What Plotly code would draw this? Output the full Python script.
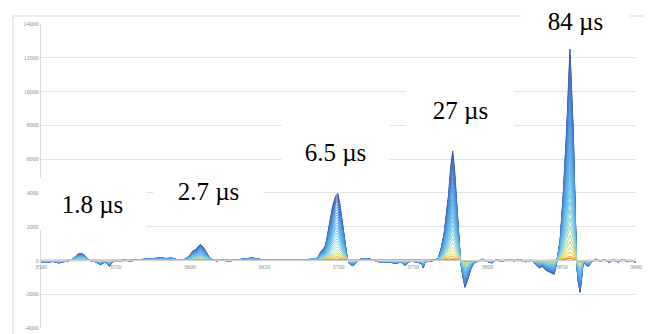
import plotly.graph_objects as go

# ---- data (outermost / strongest spectrum) ----
wavenumber = [3500, 3504, 3508, 3512, 3515, 3518, 3521, 3523, 3525, 3527, 3529, 3531, 3533, 3536,
              3540, 3543, 3546, 3548, 3552, 3556, 3560, 3564, 3568, 3572, 3576, 3580, 3584, 3588,
              3591, 3594, 3597, 3600, 3602, 3604, 3606, 3607, 3609, 3611, 3613, 3615, 3618, 3622,
              3626, 3630, 3634, 3638, 3642, 3646, 3650, 3655, 3660, 3665, 3670, 3675, 3680, 3684,
              3686, 3688, 3690, 3691, 3692, 3694, 3696, 3698, 3699.5, 3701, 3703, 3705, 3706, 3708,
              3710, 3712, 3715, 3718, 3722, 3726, 3730, 3734, 3738, 3742, 3745, 3747, 3750, 3753,
              3756, 3757, 3758, 3761, 3764, 3767, 3769, 3771, 3772.5, 3774, 3775.5, 3776.8, 3778,
              3779.5, 3781, 3782, 3783.5, 3785, 3787, 3789, 3791, 3794, 3797, 3800, 3803, 3806,
              3810, 3814, 3818, 3822, 3826, 3830, 3833, 3835, 3837, 3839, 3841, 3843, 3845, 3846,
              3847, 3849, 3851, 3853.4, 3855.6, 3857.8, 3859.5, 3860, 3861, 3862.4, 3863.5, 3864.6,
              3866, 3868, 3870, 3873, 3876, 3879, 3882, 3885, 3888, 3891, 3894, 3897, 3900]
intensity = [-80, -120, -60, -150, -80, -40, 60, 250, 380, 415, 330, 120, 0, -60,
             -250, -100, -350, -80, -40, 20, -30, 40, 60, 100, 130, 150, 120, 140,
             60, 0, 80, 300, 550, 650, 850, 950, 800, 500, 200, 40, -20, 30,
             -40, 20, 60, 100, 150, 80, 30, 60, 20, 50, 10, 40, 60, 80,
             150, 500, 700, 850, 1200, 2200, 3200, 3800, 3980, 3300, 2000, 700, 50, -250,
             -300, -100, 80, 120, 60, -60, -120, -80, -180, -100, -300, -80, -60, -100,
             -200, -450, -100, -50, 0, 120, 700, 1600, 2600, 3900, 5600, 6480, 5400,
             3200, 900, 0, -900, -1600, -1100, -500, -150, -50, 80, -60, -150, 40,
             -50, 60, -20, 40, -80, 20, -300, -450, -350, -550, -650, -750, -820, -400,
             50, 1200, 3800, 7800, 12520, 7800, 1840, 0, -1200, -1900, -1000, 0,
             -250, -350, -100, 80, -60, 50, -120, 40, -100, 60, -80, -40, -100]

# relative amplitude of each spectrum in the family (strongest first)
amplitudes = [1.0, 0.97, 0.94, 0.91, 0.88, 0.84, 0.80, 0.76, 0.72, 0.68, 0.64, 0.60, 0.56,
              0.52, 0.48, 0.44, 0.40, 0.36, 0.32, 0.28, 0.24, 0.20, 0.16, 0.12, 0.09, 0.06,
              0.04, 0.02, 0.01]

y_ticks = [-4000, -2000, 0, 2000, 4000, 6000, 8000, 10000, 12000, 14000]
x_ticks = [3500, 3550, 3600, 3650, 3700, 3750, 3800, 3850, 3900]

labels = ["1.8 µs", "2.7 µs", "6.5 µs", "27 µs", "84 µs"]
# label box centres in screen pixel coordinates and box sizes
label_px = [(92.5, 204), (208.5, 191), (335.5, 152), (460.5, 110), (575.5, 21)]
label_box = [(105, 50), (107, 55), (105, 52), (105, 52), (105, 42)]

# ---- colours: dark blue -> light blue -> cyan -> yellow -> orange ----
stops = [(0.0, (55, 85, 165)), (0.12, (70, 115, 200)), (0.35, (82, 160, 225)),
         (0.6, (105, 195, 238)), (0.78, (160, 218, 195)), (0.88, (238, 212, 70)),
         (1.0, (243, 150, 30))]


def ramp(t):
    for (t0, c0), (t1, c1) in zip(stops[:-1], stops[1:]):
        if t <= t1:
            f = (t - t0) / (t1 - t0) if t1 > t0 else 0
            return "rgb(%d,%d,%d)" % tuple(round(a + (b - a) * f) for a, b in zip(c0, c1))
    return "rgb(%d,%d,%d)" % stops[-1][1]


fig = go.Figure()
n = len(amplitudes)
for i, a in enumerate(amplitudes):
    fig.add_trace(go.Scatter(
        x=wavenumber, y=[v * a for v in intensity], mode="lines",
        line=dict(color=ramp(i / (n - 1)), width=1.5 if i == n - 1 else 1),
        showlegend=False, hoverinfo="skip"))

# the page body adds an 8px offset; work in screen pixels and shift
OFF = 8
L, R, T, B = 41 - OFF, 636 - OFF, 24 - OFF, 328 - OFF
W, H = 652 - OFF, 334 - OFF


def px2paper(px, py):
    px -= OFF
    py -= OFF
    return (px - L) / (R - L), (B - py) / (B - T)


SERIF = "Liberation Serif"

annotations = []
for text, (cx, cy), (bw, bh) in zip(labels, label_px, label_box):
    xp, yp = px2paper(cx, cy)
    annotations.append(dict(
        x=xp, y=yp, xref="paper", yref="paper", text=text, showarrow=False,
        xanchor="center", yanchor="middle", width=bw, height=bh, bgcolor="white",
        font=dict(family=SERIF, size=25, color="black")))

x0, y1 = px2paper(13, 16)
x1, y0 = px2paper(645, 345)

fig.update_layout(
    width=W, height=H, margin=dict(l=L, r=W - R, t=T, b=H - B, autoexpand=False),
    paper_bgcolor="white", plot_bgcolor="white",
    annotations=annotations,
    shapes=[dict(type="rect", xref="paper", yref="paper", x0=x0, x1=x1, y0=y0, y1=y1,
                 line=dict(color="#d9d9d9", width=1), fillcolor="rgba(0,0,0,0)", layer="below")],
    xaxis=dict(range=[3500, 3900], tickvals=x_ticks, ticktext=[str(v) for v in x_ticks],
               showgrid=False, zeroline=False, showline=True, linecolor="#d0d0d0", linewidth=1,
               anchor="free", position=4000 / 18000, ticks="", automargin=False,
               tickfont=dict(family=SERIF, size=6, color="#8c8c8c")),
    yaxis=dict(range=[-4000, 14000], tickvals=y_ticks, ticktext=[str(v) for v in y_ticks],
               showgrid=True, gridcolor="#e3e3e3", gridwidth=1, zeroline=False, automargin=False,
               showline=True, linecolor="#d9d9d9", linewidth=1, ticks="",
               tickfont=dict(family=SERIF, size=6, color="#8c8c8c")),
)

fig.write_html("out.html")
